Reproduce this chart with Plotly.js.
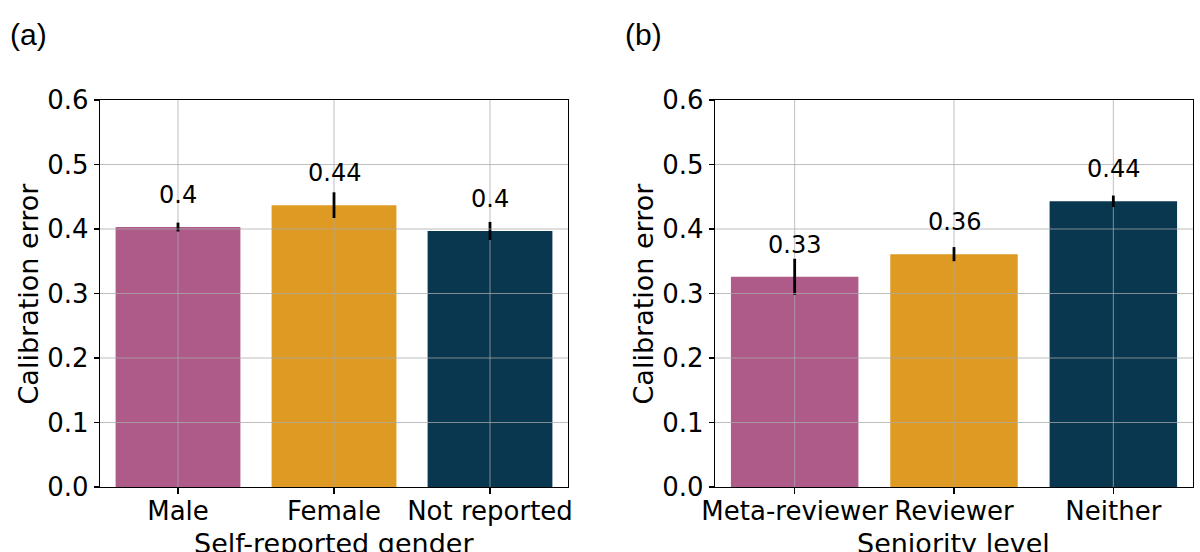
<!DOCTYPE html>
<html>
<head>
<meta charset="utf-8">
<script src="https://cdn.plot.ly/plotly-3.0.1.min.js"></script>
<style>html,body{margin:0;padding:0;background:#fff;}#chart{width:1200px;height:552px;}</style>
</head>
<body>
<div id="chart"></div>
<script>
// ---- data ----
const genderCats = ["Male", "Female", "Not reported"];
const genderVals = [0.403, 0.437, 0.397];
const genderErr = [0.007, 0.020, 0.014];
const genderLabels = ["0.4", "0.44", "0.4"];

const seniorCats = ["Meta-reviewer", "Reviewer", "Neither"];
const seniorVals = [0.326, 0.361, 0.443];
const seniorErr = [0.028, 0.011, 0.009];
const seniorLabels = ["0.33", "0.36", "0.44"];

const barColors = ["#AE5B8A", "#DE9A22", "#08374F"];
const yTicks = [0, 0.1, 0.2, 0.3, 0.4, 0.5, 0.6];
const panelLabels = ["(a)", "(b)"];
const xTitles = ["Self-reported gender", "Seniority level"];
const yTitle = "Calibration error";

const FONT = "DejaVu Sans, sans-serif";
const PFONT = "Liberation Sans, Arial, sans-serif";

function barTrace(cats, vals, errs, xa, ya) {
  return {
    type: "bar", x: cats, y: vals, xaxis: xa, yaxis: ya,
    marker: {color: barColors, line: {width: 0}},
    width: 0.8,
    error_y: {type: "data", array: errs, visible: true, color: "#000", thickness: 2.8, width: 0},
    hoverinfo: "skip"
  };
}

const traces = [
  barTrace(genderCats, genderVals, genderErr, "x", "y"),
  barTrace(seniorCats, seniorVals, seniorErr, "x2", "y2")
];

// grid lines drawn over the bars (as in the reference), but not over the error bars
const shapes = [];
const gridColor = "rgba(170,170,170,0.75)";
[["x", "y", genderCats, genderVals, genderErr], ["x2", "y2", seniorCats, seniorVals, seniorErr]].forEach(([xa, ya, cats, vals, errs]) => {
  yTicks.slice(1, -1).forEach(v => shapes.push({
    type: "line", layer: "above", xref: xa + " domain", yref: ya,
    x0: 0, x1: 1, y0: v, y1: v, line: {color: gridColor, width: 1}
  }));
  cats.forEach((c, i) => {
    shapes.push({type: "line", layer: "above", xref: xa, yref: ya,
      x0: c, x1: c, y0: yTicks[0], y1: vals[i] - errs[i], line: {color: gridColor, width: 1}});
    shapes.push({type: "line", layer: "above", xref: xa, yref: ya,
      x0: c, x1: c, y0: vals[i] + errs[i], y1: yTicks[yTicks.length - 1], line: {color: gridColor, width: 1}});
  });
});

const annotations = [];
function addLabels(cats, vals, labels, xa, ya) {
  cats.forEach((c, i) => annotations.push({
    x: c, y: vals[i], xref: xa, yref: ya, text: labels[i], showarrow: false,
    yanchor: "bottom", yshift: 16, font: {family: FONT, size: 24, color: "#000"}
  }));
}
addLabels(genderCats, genderVals, genderLabels, "x", "y");
addLabels(seniorCats, seniorVals, seniorLabels, "x2", "y2");

const xDomA = [100 / 1200, 568 / 1200];
const xDomB = [715 / 1200, 1193 / 1200];

// panel labels
[[xDomA, panelLabels[0]], [xDomB, panelLabels[1]]].forEach(([d, t]) => {
  annotations.push({xref: "paper", yref: "paper", x: d[0] - 92 / 1200, y: 1, text: t,
    showarrow: false, xanchor: "left", yanchor: "middle", yshift: 66, font: {family: PFONT, size: 30, color: "#000"}});
});
// axis titles
[[xDomA, xTitles[0]], [xDomB, xTitles[1]]].forEach(([d, t]) => {
  annotations.push({xref: "paper", yref: "paper", x: (d[0] + d[1]) / 2, y: 0, text: t, showarrow: false,
    xanchor: "center", yanchor: "top", yshift: -39, font: {family: FONT, size: 27, color: "#000"}});
  annotations.push({xref: "paper", yref: "paper", x: d[0], y: 0.5, text: yTitle, showarrow: false,
    xanchor: "center", yanchor: "middle", xshift: -72, textangle: -90, font: {family: FONT, size: 27, color: "#000"}});
});

function xAxis(domain, anchor) {
  return {
    domain: domain, anchor: anchor, type: "category", range: [-0.5, 2.5],
    showgrid: false, showline: true, mirror: true, linecolor: "#000", linewidth: 1.3,
    ticks: "outside", ticklen: 6, tickwidth: 1.3, tickcolor: "#000", ticklabelstandoff: -6,
    tickfont: {family: FONT, size: 26, color: "#000"}, zeroline: false, fixedrange: true
  };
}
function yAxis(anchor) {
  return {
    domain: [0, 1], anchor: anchor, range: [0, 0.6], tickvals: yTicks, tickformat: ".1f",
    showgrid: false, showline: true, mirror: true, linecolor: "#000", linewidth: 1.3,
    ticks: "outside", ticklen: 5, tickwidth: 1.3, tickcolor: "#000",
    tickfont: {family: FONT, size: 26, color: "#000"}, zeroline: false, fixedrange: true
  };
}

const layout = {
  width: 1200, height: 552,
  margin: {l: 0, r: 0, t: 100, b: 65},
  paper_bgcolor: "#fff", plot_bgcolor: "#fff",
  showlegend: false, bargap: 0.2,
  xaxis: xAxis(xDomA, "y"), yaxis: yAxis("x"),
  xaxis2: xAxis(xDomB, "y2"), yaxis2: yAxis("x2"),
  shapes: shapes, annotations: annotations,
  font: {family: FONT, color: "#000"}
};

Plotly.newPlot("chart", traces, layout, {displayModeBar: false, staticPlot: true});
</script>
</body>
</html>
